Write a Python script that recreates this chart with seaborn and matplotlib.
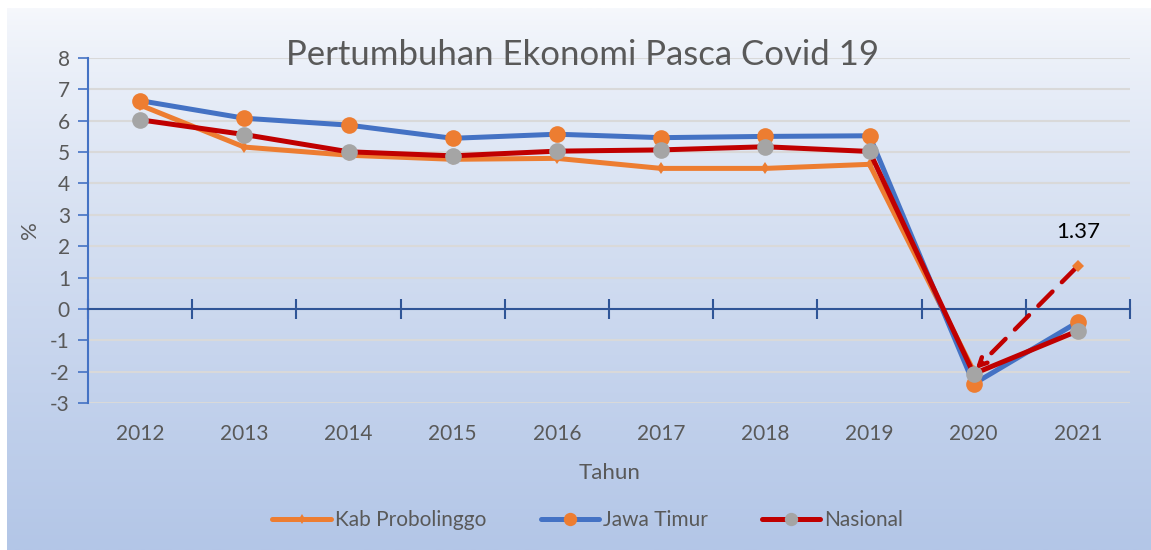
import numpy as np
import pandas as pd
import seaborn as sns
import matplotlib.pyplot as plt
import matplotlib.colors as mcolors

# data
years = ['2012', '2013', '2014', '2015', '2016', '2017', '2018', '2019', '2020', '2021']
kab_probolinggo = [6.50, 5.16, 4.90, 4.77, 4.80, 4.48, 4.48, 4.61, -1.98, 1.37]
jawa_timur = [6.64, 6.08, 5.86, 5.44, 5.57, 5.46, 5.50, 5.52, -2.39, -0.42]
nasional = [6.03, 5.56, 5.01, 4.88, 5.03, 5.07, 5.17, 5.02, -2.07, -0.70]
y_ticks = list(range(-3, 9))

sns.set_theme(style='white')
plt.rcParams['font.family'] = ['Lato', 'DejaVu Sans']
text_grey = '#595959'

fig = plt.figure(figsize=(11.51, 5.5), dpi=100)

# gradient background of the chart area
bg = fig.add_axes([7 / 1151, 0, 1 - 7 / 1151, 1 - 8 / 550])
top = np.array(mcolors.to_rgb('#f6f8fc'))
bot = np.array(mcolors.to_rgb('#b3c6e7'))
t = np.linspace(0, 1, 256)[:, None] ** 0.8
grad = top * (1 - t) + bot * t
bg.imshow(grad[:, None, :], aspect='auto', extent=[0, 1, 0, 1])
bg.axis('off')

ax = fig.add_axes([88 / 1151, 1 - 403 / 550, (1130 - 88) / 1151, (403 - 58) / 550])
ax.patch.set_alpha(0)

df = pd.DataFrame({'Tahun': years, 'Kab Probolinggo': kab_probolinggo,
                   'Jawa Timur': jawa_timur, 'Nasional': nasional})
df['x'] = np.arange(len(years))

# Kab Probolinggo: solid up to 2020, dashed red to 2021
solid = df.iloc[:9]
sns.lineplot(data=solid, x='x', y='Kab Probolinggo', ax=ax, color='#ed7d31', lw=3.6,
             marker='d', markersize=6, markeredgewidth=0, label='Kab Probolinggo', zorder=3)
sns.lineplot(data=df, x='x', y='Jawa Timur', ax=ax, color='#4472c4', lw=3.6,
             marker='o', markersize=12, markerfacecolor='#ed7d31', markeredgewidth=0,
             label='Jawa Timur', zorder=4)
sns.lineplot(data=df, x='x', y='Nasional', ax=ax, color='#c00000', lw=3.6,
             marker='o', markersize=12, markerfacecolor='#a5a5a5', markeredgewidth=0,
             label='Nasional', zorder=5)

last = df.iloc[9]
prev = df.iloc[8]
ax.annotate('', xy=(prev['x'], prev['Kab Probolinggo']),
            xytext=(last['x'], last['Kab Probolinggo']),
            arrowprops=dict(arrowstyle='->', color='#c00000', lw=3.2, linestyle=(0, (4.5, 3)),
                            shrinkA=2, shrinkB=2, mutation_scale=14), zorder=6)
ax.plot([last['x']], [last['Kab Probolinggo']], marker='D', color='#ed7d31',
        markersize=6, markeredgewidth=0, zorder=7)
ax.text(last['x'], last['Kab Probolinggo'] + 0.75, f"{last['Kab Probolinggo']:.2f}",
        ha='center', va='bottom', fontsize=16, color='black')

ax.set_xlim(-0.5, len(years) - 0.5)
ax.set_ylim(-3, 8)
ax.set_yticks(y_ticks)
ax.set_yticklabels([str(v) for v in y_ticks], fontsize=15, color=text_grey)
ax.yaxis.grid(True, color='#d9d9d9', lw=1.5, zorder=0)
ax.set_axisbelow(True)

for s in ['top', 'right']:
    ax.spines[s].set_visible(False)
ax.spines['left'].set_color('#4472c4')
ax.spines['left'].set_linewidth(1.5)
ax.spines['bottom'].set_position(('data', 0))
ax.spines['bottom'].set_color('#2f5597')
ax.spines['bottom'].set_linewidth(1.5)

ax.set_xticks(np.arange(-0.5, len(years), 1.0))
ax.set_xticklabels([])
ax.tick_params(axis='x', direction='inout', length=14, width=1.5, color='#2f5597', bottom=True)
ax.tick_params(axis='y', direction='out', length=7, width=1.2, color='#4472c4', left=True, pad=6)

for i, y in enumerate(years):
    ax.text(i, -0.09, y, transform=ax.get_xaxis_transform(), ha='center', va='center',
            fontsize=15, color=text_grey)

ax.set_xlabel('')
ax.set_ylabel('')
fig.text(610 / 1151, 1 - 473 / 550, 'Tahun', ha='center', va='center', fontsize=16, color=text_grey)
fig.text(30 / 1151, 1 - 230 / 550, '%', ha='center', va='center', fontsize=16,
         color=text_grey, rotation=90)
fig.text(582 / 1151, 1 - 55 / 550, 'Pertumbuhan Ekonomi Pasca Covid 19', ha='center',
         va='center', fontsize=25, color=text_grey)

handles, labels = ax.get_legend_handles_labels()
ax.legend(handles, labels, loc='center', bbox_to_anchor=(588 / 1151, 1 - 520 / 550),
          bbox_transform=fig.transFigure, ncol=3, frameon=False, fontsize=15,
          labelcolor=text_grey, handlelength=2.8, handletextpad=0.2, columnspacing=2.6,
          markerscale=0.8)

fig.savefig('out.png', dpi=100)
